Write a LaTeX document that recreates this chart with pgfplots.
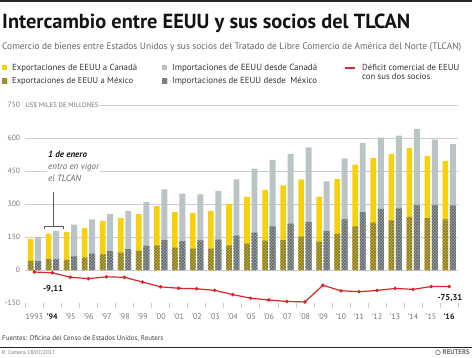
\documentclass[border=0pt]{standalone}
\usepackage{fontspec}
\setmainfont{PT Sans}
\usepackage{pgfplots}
\pgfplotsset{compat=1.18}
\usepackage{pgfplotstable}
\usetikzlibrary{patterns}
\definecolor{amar}{HTML}{F6D10C}
\definecolor{gris}{HTML}{BAC4C6}
\definecolor{amarosc}{HTML}{C2B03C}
\definecolor{amarpat}{HTML}{7E7428}
\definecolor{grisosc}{HTML}{9AA2A5}
\definecolor{grispat}{HTML}{5C6466}
\definecolor{rojo}{HTML}{D8262B}
\definecolor{txt}{HTML}{333333}
\definecolor{ticktxt}{HTML}{767676}
\definecolor{gridc}{HTML}{CCCCCC}
\newcommand{\fitw}[2]{\resizebox{#1}{!}{#2}}

\pgfplotstableread{
year expTot expMex impTot impMex def
1993 142.0 41.6 151.1 39.9 -9.1
1994 165.2 50.8 177.9 49.5 -12.7
1995 173.5 46.3 206.5 62.1 -33.0
1996 191.0 56.8 230.2 74.3 -39.2
1997 223.2 71.4 254.1 85.9 -30.9
1998 235.4 78.8 268.6 94.6 -33.2
1999 253.6 87.0 308.4 109.7 -54.8
2000 290.2 111.3 366.7 135.9 -76.5
2001 264.7 101.3 347.6 131.3 -82.9
2002 258.4 97.5 343.7 134.6 -85.3
2003 267.3 97.4 359.7 138.1 -92.4
2004 300.7 110.8 412.3 155.9 -111.6
2005 332.1 120.2 460.5 170.1 -128.4
2006 364.4 133.7 500.7 198.3 -136.3
2007 384.8 135.9 527.8 210.7 -143.0
2008 412.3 151.2 557.5 218.0 -145.2
2009 333.6 128.9 402.9 176.7 -69.3
2010 413.0 163.7 507.5 229.9 -94.5
2011 479.6 198.3 578.2 262.9 -98.6
2012 508.6 215.9 601.5 277.6 -92.9
2013 526.9 226.1 610.5 280.5 -83.6
2014 553.8 241.0 641.8 295.7 -88.0
2015 517.3 236.4 592.6 296.4 -75.3
2016 496.5 229.7 571.9 294.2 -75.4
}\datos

\begin{document}
\begin{tikzpicture}[x=1pt,y=1pt]
\useasboundingbox (0,0) rectangle (472,-357);
% top rule
\fill[black!85] (0,0) rectangle (472,-1.8);
% title and subtitle
\node[anchor=base west, inner sep=0] at (2,-28) {\fitw{408pt}{\bfseries\color{black!92}Intercambio entre EEUU y sus socios del TLCAN}};
\node[anchor=base west, inner sep=0] at (2,-49.3) {\fitw{459pt}{\color{black!60}Comercio de bienes entre Estados Unidos y sus socios del Tratado de Libre Comercio de América del Norte (TLCAN)}};
% legend
\fill[amar] (2,-64.8) rectangle (7.4,-70.2);
\fill[amarosc] (2,-78.3) rectangle (7.4,-83.7);
\fill[pattern=crosshatch, pattern color=amarpat] (2,-78.3) rectangle (7.4,-83.7);
\fill[gris] (162,-64.8) rectangle (167.4,-70.2);
\fill[grisosc] (162,-78.3) rectangle (167.4,-83.7);
\fill[pattern=crosshatch, pattern color=grispat] (162,-78.3) rectangle (167.4,-83.7);
\fill[rojo] (345,-66.8) rectangle (355,-68.5);
\begin{scope}[every node/.style={anchor=base west, inner sep=0, text=txt}]
\node at (12,-70.3) {\fitw{125pt}{Exportaciones de EEUU a Canadá}};
\node at (12,-83.9) {\fitw{121pt}{Exportaciones de EEUU a México}};
\node at (172,-70.3) {\fitw{145pt}{Importaciones de EEUU desde Canadá}};
\node at (172,-83.9) {\fitw{145pt}{Importaciones de EEUU desde\ \ México}};
\node at (362,-70.3) {\fitw{97pt}{Déficit comercial de EEUU}};
\node at (362,-79.9) {\fitw{68pt}{con sus dos socios}};
\end{scope}

\begin{axis}[
  at={(25.3pt,-303pt)}, anchor=south west,
  scale only axis, width=432.9pt, height=198pt,
  xmin=1992.5, xmax=2016.5, ymin=-150, ymax=750,
  clip=false,
  axis x line*=bottom, axis y line*=left,
  x axis line style={draw=none}, y axis line style={draw=none},
  ytick={0,150,...,750},
  extra y ticks={-150}, extra y tick style={grid=none},
  ymajorgrids, major grid style={draw=gridc, line width=0.7pt},
  major tick length=0pt,
  ytick style={draw=none},
  xtick={1993,...,2016},
  xticklabels={1993,\textbf{\color{black!90}’94},’95,’96,’97,’98,’99,’00,’01,’02,’03,’04,’05,’06,’07,’08,’09,’10,’11,’12,’13,’14,’15,\textbf{\color{black!90}’16}},
  minor xtick={1992.5,1993.5,...,2016.5},
  minor tick length=4.5pt, tick align=outside,
  minor x tick style={draw=gridc, line width=0.6pt},
  major x tick style={draw=none},
  /pgf/number format/assume math mode=true,
  xticklabel style={anchor=center, yshift=-14pt, font=\fontsize{8}{9}\selectfont, text=ticktxt},
  yticklabel style={anchor=east, inner sep=0pt, xshift=-5pt, font=\fontsize{7.6}{9}\selectfont, text=ticktxt},
]
% exports: total (yellow) with Mexico part (hatched) at bottom
\addplot[ybar, bar width=0.31, bar shift=-0.208, fill=amar, draw=none] table[x=year, y=expTot] {\datos};
\addplot[ybar, bar width=0.31, bar shift=-0.208, fill=amarosc, draw=none, postaction={pattern=crosshatch, pattern color=amarpat}] table[x=year, y=expMex] {\datos};
% imports: total (gray) with Mexico part (hatched) at bottom
\addplot[ybar, bar width=0.33, bar shift=0.208, fill=gris, draw=none] table[x=year, y=impTot] {\datos};
\addplot[ybar, bar width=0.33, bar shift=0.208, fill=grisosc, draw=none, postaction={pattern=crosshatch, pattern color=grispat}] table[x=year, y=impMex] {\datos};
% deficit
\addplot[rojo, line width=1.2pt, mark=*, mark size=1.1pt] table[x=year, y=def] {\datos};

% units label
\node[anchor=west, fill=white, inner xsep=0pt, inner ysep=1.5pt, text=ticktxt] at (axis cs:1992.5,750) {\fitw{73pt}{US\$ MILES DE MILLONES}\hspace{4pt}};
% NAFTA annotation
\draw[black!65, line width=0.6pt] (axis cs:1994.05,356) -- (axis cs:1994.05,200);
\draw[black!65, line width=0.6pt] (axis cs:1993.55,186) -- (axis cs:1993.55,200) -- (axis cs:1994.6,200) -- (axis cs:1994.6,186);
\node[anchor=north west, fill=white, inner sep=1pt, align=left, font=\fontsize{9}{12}\selectfont\itshape] at (axis cs:1993.7,548) {\textbf{\color{black!90}1 de enero}\\{\color{black!60}entra en vigor}\\{\color{black!60}el TLCAN}};
% value labels
\node[font=\fontsize{8.6}{10}\selectfont\bfseries, text=black!90] at (axis cs:1994.04,-86) {-9,11};
\node[font=\fontsize{8.6}{10}\selectfont\bfseries, text=black!90] at (axis cs:2016.04,-127) {-75,31};
\end{axis}

% footer
\node[anchor=west, inner sep=0] at (2,-339) {\fitw{161pt}{\color{black!75}Fuentes: Oficina del Censo de Estados Unidos, Reuters}};
\draw[black!85, line width=0.9pt] (0,-347.6) -- (472,-347.6);
\node[anchor=west, inner sep=0] at (2,-352.5) {\fitw{53pt}{\color{black!55}R. Camera 18/07/2017}};
\draw[black!55, line width=0.6pt] (438,-352.5) circle (2.3);
\node[anchor=west, inner sep=0] at (442.5,-352.5) {\fitw{27pt}{\bfseries\color{black!60}REUTERS}};
\end{tikzpicture}
\end{document}
